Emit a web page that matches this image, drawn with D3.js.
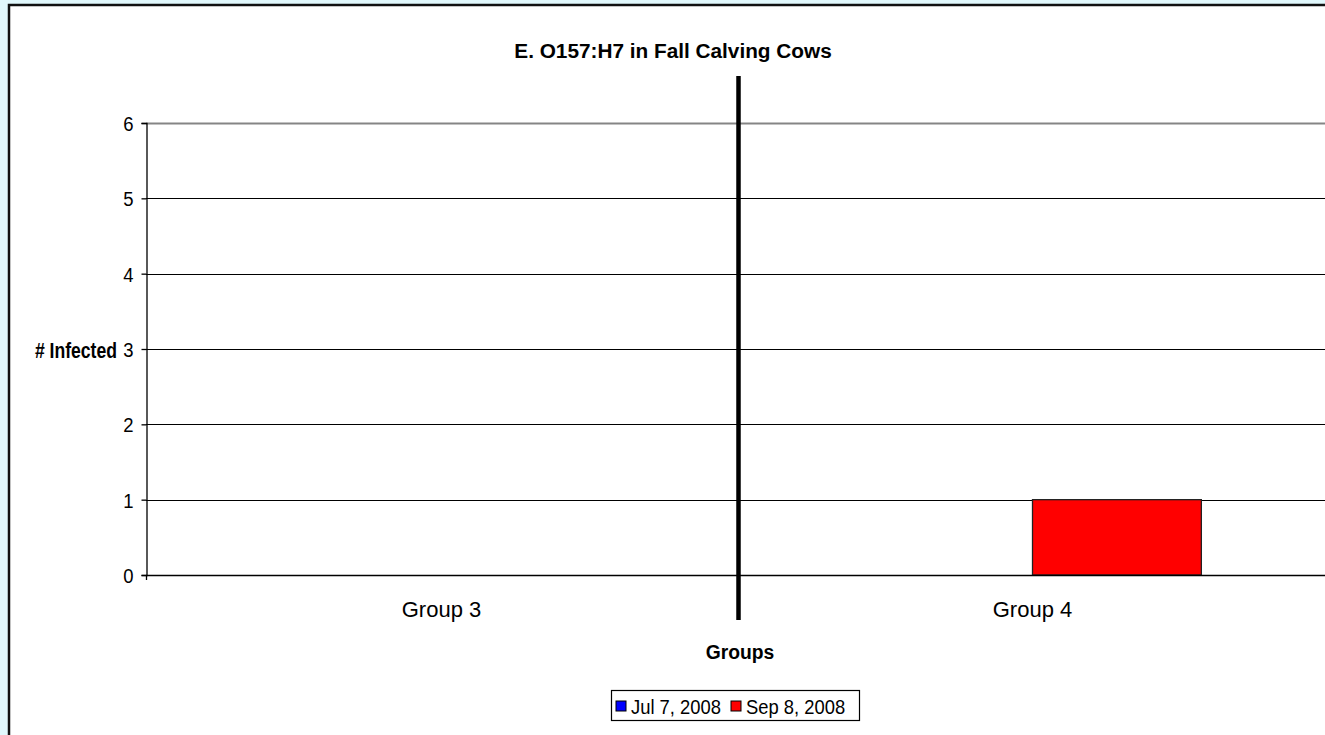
<!DOCTYPE html>
<html>
<head>
<meta charset="utf-8">
<script src="https://cdn.jsdelivr.net/npm/d3@7"></script>
<style>
  html, body { margin: 0; padding: 0; background: #e1f8fc; }
  svg { display: block; }
  text { font-family: "Liberation Sans", Arial, sans-serif; fill: #000; }
</style>
</head>
<body>
<svg id="chart" width="1325" height="735"></svg>
<script>
// Chart data
const categories = ["Group 3", "Group 4"];
const seriesNames = ["Jul 7, 2008", "Sep 8, 2008"];
const seriesColors = ["#0000ff", "#ff0000"];
const jul7Values = [0, 0];
const sep8Values = [0, 1];
const yTicks = [0, 1, 2, 3, 4, 5, 6];

const seriesValues = [jul7Values, sep8Values];

const svg = d3.select("#chart");
const W = 1325, H = 735;

// Text helper: slightly condensed glyphs, anchored at (x, y)
function label(parent, x, y, str, size, opts = {}) {
  const sx = opts.sx ?? 0.9;
  return parent.append("text")
    .attr("transform", `translate(${x},${y}) scale(${sx},1)`)
    .attr("text-anchor", opts.anchor || "start")
    .style("font-size", size + "px")
    .style("font-weight", opts.bold ? "bold" : "normal")
    .text(str);
}

// White chart panel with dark border
svg.append("rect").attr("x", 9).attr("y", 5).attr("width", W).attr("height", H)
  .attr("fill", "#fff").attr("stroke", "#111").attr("stroke-width", 2.5);

const plot = { left: 146, right: 1328, top: 123, bottom: 575 };

const x = d3.scaleBand().domain(categories).range([plot.left, plot.right]);
const y = d3.scaleLinear().domain([0, 6]).range([plot.bottom, plot.top]);

// Bar geometry: two bars per group, gap width 150% of a bar
const barW = x.bandwidth() / (seriesNames.length + 1.5);
const xs = d3.scaleBand().domain(d3.range(seriesNames.length))
  .range([0, barW * seriesNames.length]);
const groupOffset = (x.bandwidth() - barW * seriesNames.length) / 2;

// Gridlines
svg.append("g").selectAll("line").data(yTicks.filter(d => d > 0)).join("line")
  .attr("x1", plot.left).attr("x2", plot.right)
  .attr("y1", d => Math.round(y(d)) + 0.5).attr("y2", d => Math.round(y(d)) + 0.5)
  .attr("stroke", d => d === 6 ? "#858585" : "#000").attr("stroke-width", d => d === 6 ? 2 : 1.2);

// Bars
const bars = [];
categories.forEach((c, i) => seriesValues.forEach((vals, s) => {
  bars.push({ cat: c, s, v: vals[i] });
}));
svg.append("g").selectAll("rect").data(bars.filter(d => d.v > 0)).join("rect")
  .attr("x", d => x(d.cat) + groupOffset + xs(d.s))
  .attr("y", d => y(d.v))
  .attr("width", barW)
  .attr("height", d => y(0) - y(d.v))
  .attr("fill", d => seriesColors[d.s])
  .attr("stroke", "#222").attr("stroke-width", 1.3);

// Y axis
const yAxis = d3.axisLeft(y).tickValues(yTicks).tickFormat(d3.format("d")).tickSizeOuter(0).tickSize(5);
const gy = svg.append("g").attr("transform", `translate(${plot.left + 0.5},0)`).call(yAxis);
gy.select(".domain").attr("stroke", "#000").attr("stroke-width", 1.3);
gy.selectAll(".tick line").attr("stroke", "#000").attr("stroke-width", 1.3);
gy.selectAll(".tick text").remove();
gy.selectAll(".tick").each(function (d) {
  label(d3.select(this), -13, 7.5, d3.format("d")(d), 21, { anchor: "end", sx: 0.88 });
});

// X axis baseline
svg.append("line").attr("x1", plot.left).attr("x2", plot.right)
  .attr("y1", y(0) + 0.5).attr("y2", y(0) + 0.5).attr("stroke", "#000").attr("stroke-width", 1.5);
svg.append("line").attr("x1", plot.left + 0.5).attr("x2", plot.left + 0.5)
  .attr("y1", y(0)).attr("y2", y(0) + 5).attr("stroke", "#000").attr("stroke-width", 1.3);

// Category labels
categories.forEach(c => label(svg, x(c) + x.bandwidth() / 2, 617, c, 22, { anchor: "middle", sx: 1.0 }));

// Divider between groups
const divX = x(categories[1]) + 1.5;
svg.append("line").attr("x1", divX).attr("x2", divX).attr("y1", 76).attr("y2", 620)
  .attr("stroke", "#000").attr("stroke-width", 4.5);

// Title and axis titles
label(svg, 673, 58, "E. O157:H7 in Fall Calving Cows", 21, { anchor: "middle", bold: true, sx: 0.99 });
label(svg, 740, 659, "Groups", 21, { anchor: "middle", bold: true, sx: 0.92 });
label(svg, 117, 358, "# Infected", 22, { anchor: "end", bold: true, sx: 0.8 });

// Legend
const lg = svg.append("g").attr("transform", "translate(611,690)");
lg.append("rect").attr("x", 0.5).attr("y", 0.5).attr("width", 248).attr("height", 30)
  .attr("fill", "#fff").attr("stroke", "#000").attr("stroke-width", 1.2);
const items = [{ name: seriesNames[0], c: seriesColors[0], x: 5 }, { name: seriesNames[1], c: seriesColors[1], x: 120 }];
items.forEach(it => {
  lg.append("rect").attr("x", it.x).attr("y", 11).attr("width", 10).attr("height", 10)
    .attr("fill", it.c).attr("stroke", "#000").attr("stroke-width", 1);
  label(lg, it.x + 15, 23.5, it.name, 20, { sx: 0.92 });
});
</script>
</body>
</html>
